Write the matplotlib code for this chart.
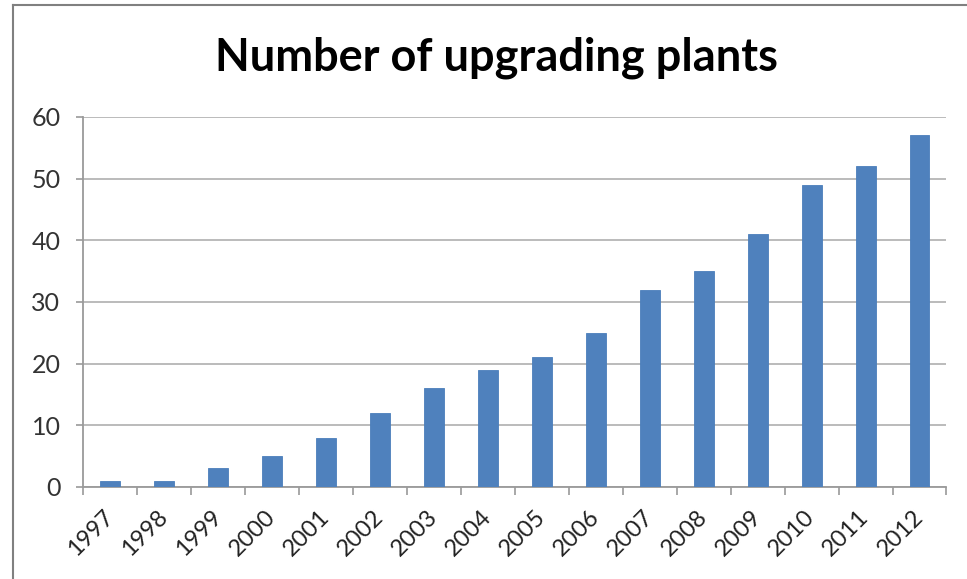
import numpy as np
import matplotlib
matplotlib.use("Agg")
import matplotlib.pyplot as plt
from matplotlib.lines import Line2D

years = ['1997', '1998', '1999', '2000', '2001', '2002', '2003', '2004',
         '2005', '2006', '2007', '2008', '2009', '2010', '2011', '2012']
plants = [1, 1, 3, 5, 8, 12, 16, 19, 21, 25, 32, 35, 41, 49, 52, 57]
y_ticks = [0, 10, 20, 30, 40, 50, 60]

plt.rcParams['font.family'] = ['Lato', 'DejaVu Sans']

fig = plt.figure(figsize=(9.67, 5.79), dpi=100)
ax = fig.add_axes([0.0858, 0.159, 0.893, 0.639])

x = np.arange(len(years))
ax.bar(x, plants, width=0.37, color='#4F81BD', edgecolor='#4A7EBB', linewidth=0.6, zorder=3)

ax.set_xlim(-0.5, len(years) - 0.5)
ax.set_ylim(0, 60)
ax.set_yticks(y_ticks)
ax.tick_params(axis='y', length=5.2, width=1.2, color='#9a9a9a', labelsize=18,
               labelcolor='#333333', pad=11)
ax.yaxis.grid(True, color='#b5b5b5', linewidth=1.3, zorder=0)

# year labels at centres, tick marks between categories
ax.set_xticks(x)
ax.set_xticklabels(years, rotation=45, ha='right', va='center',
                   rotation_mode='anchor', fontsize=17, color='#222222')
ax.tick_params(axis='x', which='major', length=0, pad=19)
ax.set_xticks(np.arange(-0.5, len(years), 1.0), minor=True)
ax.tick_params(axis='x', which='minor', length=6, width=1.2, color='#9a9a9a')

for s in ['top', 'right']:
    ax.spines[s].set_visible(False)
for s in ['left', 'bottom']:
    ax.spines[s].set_color('#9a9a9a')
    ax.spines[s].set_linewidth(1.3)

fig.text(0.513, 0.90, 'Number of upgrading plants', ha='center', va='center',
         fontsize=32.5, fontweight='bold', color='black')

# outer frame (left and top edges visible)
fig.add_artist(Line2D([0.0135, 0.0135], [0, 0.991], transform=fig.transFigure,
                      color='#808080', linewidth=1.5))
fig.add_artist(Line2D([0.0135, 1.0], [0.991, 0.991], transform=fig.transFigure,
                      color='#808080', linewidth=1.5))

fig.savefig('out.png', dpi=100, facecolor='white')
